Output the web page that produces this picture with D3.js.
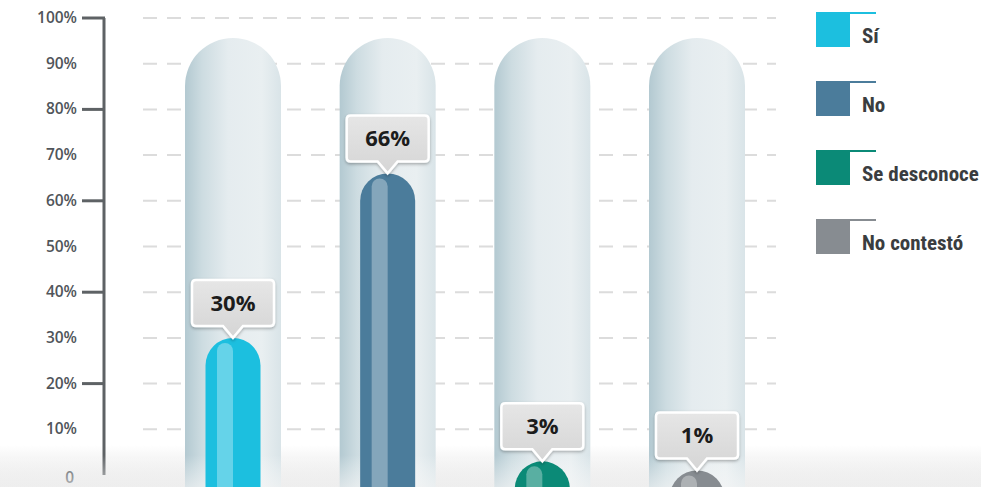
<!DOCTYPE html>
<html><head><meta charset="utf-8">
<script src="https://cdn.jsdelivr.net/npm/d3@7"></script>
<style>
html,body{margin:0;padding:0;background:#fff;}
svg{display:block;}
</style></head>
<body>
<svg id="chart" width="981" height="487"></svg>
<script>
const categories = ["Sí", "No", "Se desconoce", "No contestó"];
const values = [30, 66, 3, 1];
const colors = ["#1cbfdf", "#4b7c9b", "#0b8a77", "#878c91"];
const tickValues = [0,10,20,30,40,50,60,70,80,90,100];
const majorTicks = [20,40,60,80,100];
const tickLabels = ["0","10%","20%","30%","40%","50%","60%","70%","80%","90%","100%"];

const svg = d3.select("#chart");
const W = 981, H = 487;
const y = d3.scaleLinear().domain([0,100]).range([475,18]);
const x = d3.scalePoint().domain(categories).range([233,697]);

const defs = svg.append("defs");
const tg = defs.append("linearGradient").attr("id","tube").attr("x1","0").attr("x2","1").attr("y1","0").attr("y2","0");
[["0","#b3c9d1"],["0.18","#cddce1"],["0.45","#e5ecef"],["0.8","#e9eff1"],["1","#d9e4e8"]].forEach(s=>tg.append("stop").attr("offset",s[0]).attr("stop-color",s[1]));
const bg = defs.append("linearGradient").attr("id","floor").attr("x1","0").attr("x2","0").attr("y1","0").attr("y2","1");
bg.append("stop").attr("offset","0").attr("stop-color","#ffffff");
bg.append("stop").attr("offset","1").attr("stop-color","#e2e2e2");
const lg = defs.append("linearGradient").attr("id","lbl").attr("x1","0").attr("x2","0").attr("y1","0").attr("y2","1");
lg.append("stop").attr("offset","0").attr("stop-color","#e6e6e6");
lg.append("stop").attr("offset","1").attr("stop-color","#d5d5d5");
const fade = defs.append("linearGradient").attr("id","fade").attr("x1","0").attr("x2","0").attr("y1","0").attr("y2","1");
fade.append("stop").attr("offset","0").attr("stop-color","#ffffff").attr("stop-opacity",0);
fade.append("stop").attr("offset","1").attr("stop-color","#f6f6f6").attr("stop-opacity",0.6);
const sh = defs.append("filter").attr("id","shadow").attr("x","-20%").attr("y","-20%").attr("width","140%").attr("height","150%");
sh.append("feDropShadow").attr("dx",0).attr("dy",1.5).attr("stdDeviation",1.5).attr("flood-color","#000").attr("flood-opacity",0.3);

// floor band
svg.append("rect").attr("x",0).attr("y",445).attr("width",W).attr("height",H-445).attr("fill","url(#floor)");

// gridlines
svg.append("g").selectAll("line").data(tickValues.filter(d=>d>0)).join("line")
  .attr("x1",143).attr("x2",776).attr("y1",d=>y(d)).attr("y2",d=>y(d))
  .attr("stroke","#dcdcdc").attr("stroke-width",2).attr("stroke-dasharray","14,10");

// axis
const ax = svg.append("g");
ax.append("line").attr("x1",104).attr("x2",104).attr("y1",y(100)).attr("y2",y(0)).attr("stroke","#5e6265").attr("stroke-width",3);
ax.selectAll("line.tk").data(majorTicks).join("line").attr("class","tk")
  .attr("x1",82).attr("x2",105).attr("y1",d=>y(d)).attr("y2",d=>y(d))
  .attr("stroke","#5e6265").attr("stroke-width",3);
ax.selectAll("text").data(tickValues).join("text")
  .attr("x",d=>d===0?74:77).attr("y",d=>d===0?y(0)+8:y(d)+5)
  .attr("text-anchor","end")
  .attr("font-family","'Open Sans', 'DejaVu Sans', sans-serif").attr("font-weight","600").attr("font-size",15.5)
  .attr("fill","#50555a")
  .text((d,i)=>tickLabels[i]);

// tubes
const tubeW = 96, fillW = 55;
const g = svg.append("g");
g.selectAll("rect.tube").data(categories).join("rect").attr("class","tube")
  .attr("x",d=>x(d)-tubeW/2).attr("y",38).attr("width",tubeW).attr("height",520).attr("rx",tubeW/2)
  .attr("fill","url(#tube)");

// bottom fade over tubes (beneath fills)
svg.append("rect").attr("x",0).attr("y",455).attr("width",W).attr("height",32).attr("fill","url(#fade)");

// fills
const data = categories.map((c,i)=>({c, v:values[i], col:colors[i]}));
const fg = svg.append("g");
fg.selectAll("rect.fill").data(data).join("rect").attr("class","fill")
  .attr("x",d=>x(d.c)-fillW/2).attr("y",d=>y(d.v)).attr("width",fillW).attr("height",d=>H+60-y(d.v)).attr("rx",fillW/2)
  .attr("fill",d=>d.col);
// highlight stripe
fg.selectAll("rect.hl").data(data).join("rect").attr("class","hl")
  .attr("x",d=>x(d.c)-16).attr("y",d=>y(d.v)+5).attr("width",16).attr("height",d=>H+60-y(d.v)).attr("rx",8)
  .attr("fill","#ffffff").attr("opacity",0.32);

// callouts
const bw = 82, bh = 46, ph = 12, pw = 10;
const cg = svg.append("g").selectAll("g").data(data).join("g")
  .attr("transform",d=>`translate(${x(d.c)},${y(d.v)})`);
cg.append("path")
  .attr("d",()=>{
    const t=-ph, top=-ph-bh, l=-bw/2, r=bw/2, rr=4;
    return `M0,0 L${-pw},${t} L${l+rr},${t} Q${l},${t} ${l},${t-rr} L${l},${top+rr} Q${l},${top} ${l+rr},${top} L${r-rr},${top} Q${r},${top} ${r},${top+rr} L${r},${t-rr} Q${r},${t} ${r-rr},${t} L${pw},${t} Z`;
  })
  .attr("fill","url(#lbl)").attr("stroke","#ffffff").attr("stroke-width",2.5).attr("filter","url(#shadow)");
cg.append("text").attr("x",0).attr("y",-ph-bh/2+8).attr("text-anchor","middle")
  .attr("font-family","'Open Sans', 'DejaVu Sans', sans-serif").attr("font-weight","700").attr("font-size",22)
  .attr("fill","#1c1c1c").text(d=>d.v+"%");

// legend
const legY = d3.scalePoint().domain(categories).range([12,219]);
const lgG = svg.append("g").selectAll("g").data(data).join("g")
  .attr("transform",d=>`translate(816,${legY(d.c)})`);
lgG.append("rect").attr("width",34).attr("height",35).attr("fill",d=>d.col);
lgG.append("rect").attr("x",34).attr("width",26).attr("height",2).attr("fill",d=>d.col);
lgG.append("text").attr("x",46).attr("y",31)
  .attr("font-family","'Liberation Sans Narrow', 'Roboto Condensed', 'Liberation Sans', sans-serif")
  .attr("font-weight","700").attr("font-size",21).attr("fill","#3a3d40")
  .text(d=>d.c);
</script>
</body></html>
